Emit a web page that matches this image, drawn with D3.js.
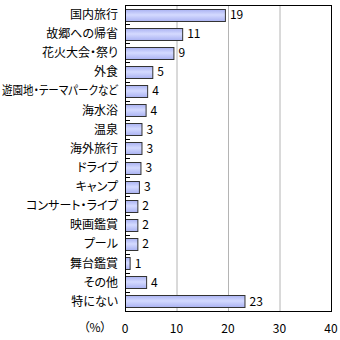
<!DOCTYPE html>
<html><head><meta charset="utf-8">
<script src="https://cdn.jsdelivr.net/npm/d3@7"></script>
<style>body{margin:0;background:#fff}svg{display:block}text{font-feature-settings:"palt" 1;}</style>
</head><body>
<svg id="c" width="340" height="340"></svg>
<script>
const categories = ["国内旅行","故郷への帰省","花火大会・祭り","外食","遊園地・テーマパークなど","海水浴","温泉","海外旅行","ドライブ","キャンプ","コンサート・ライブ","映画鑑賞","プール","舞台鑑賞","その他","特にない"];
const values = [19.4, 11.1, 9.4, 5.3, 4.3, 4.0, 3.2, 3.2, 3.0, 2.7, 2.4, 2.4, 2.4, 0.9, 4.1, 23.2];
const valueLabels = ["19","11","9","5","4","4","3","3","3","3","2","2","2","1","4","23"];
const xTicks = [0, 10, 20, 30, 40];
const unitLabel = "（%）";

const svg = d3.select("#c");
const m = {l:125, r:331, t:5, b:311};
const font = "'Noto Sans CJK JP', sans-serif";

const x = d3.scaleLinear().domain([0,40]).range([m.l, m.r]);
const y = d3.scaleBand().domain(categories).range([m.t, m.b]).paddingInner(0.37).paddingOuter(0.185);
const yb = d3.scaleBand().domain(categories).range([m.t, m.b]);

const defs = svg.append("defs");
const g = defs.append("linearGradient").attr("id","bg").attr("x1",0).attr("y1",0).attr("x2",0).attr("y2",1);
g.append("stop").attr("offset","0%").attr("stop-color","#aab2f2");
g.append("stop").attr("offset","45%").attr("stop-color","#d4daff");
g.append("stop").attr("offset","100%").attr("stop-color","#aab2f2");

svg.append("g").selectAll("line").data(xTicks.filter(t=>t>0 && t<40)).join("line")
  .attr("x1",d=>x(d)+0.5).attr("x2",d=>x(d)+0.5).attr("y1",m.t).attr("y2",m.b)
  .attr("stroke","#b4b4b4").attr("stroke-width",1);

svg.append("g").selectAll("rect").data(categories).join("rect")
  .attr("x", x(0)+0.5).attr("y", d=>Math.round(y(d))+0.5)
  .attr("width", (d,i)=>x(values[i])-x(0))
  .attr("height", Math.round(y.bandwidth()))
  .attr("fill","url(#bg)").attr("stroke","#333").attr("stroke-width",1);

svg.append("rect").attr("x",m.l+0.5).attr("y",m.t+0.5).attr("width",m.r-m.l).attr("height",m.b-m.t)
  .attr("fill","none").attr("stroke","#000").attr("stroke-width",1);

svg.append("g").selectAll("line").data(categories.slice(1)).join("line")
  .attr("x1",m.l).attr("x2",m.l+5).attr("y1",d=>Math.round(yb(d))+0.5).attr("y2",d=>Math.round(yb(d))+0.5)
  .attr("stroke","#000");

svg.append("g").selectAll("text").data(categories).join("text")
  .attr("x",118).attr("y",d=>yb(d)+yb.bandwidth()/2).attr("dy","0.36em")
  .attr("text-anchor","end").attr("font-family",font).attr("font-size",12).attr("fill","#000")
  .text(d=>d)
  .each(function(){ const w=this.getComputedTextLength(); if (w>116) { d3.select(this).attr("textLength",116).attr("lengthAdjust","spacingAndGlyphs"); } });

svg.append("g").selectAll("text").data(categories).join("text")
  .attr("x",(d,i)=>x(values[i])+5).attr("y",d=>yb(d)+yb.bandwidth()/2).attr("dy","0.36em")
  .attr("font-family",font).attr("font-size",12).attr("fill","#000")
  .text((d,i)=>valueLabels[i]);

svg.append("g").selectAll("text").data(xTicks).join("text")
  .attr("x",d=>x(d)).attr("y",329).attr("dy","0.36em").attr("text-anchor","middle")
  .attr("font-family",font).attr("font-size",12).attr("fill","#000")
  .text(d=>d);

svg.append("text").attr("x",95).attr("y",328).attr("dy","0.36em").attr("text-anchor","middle")
  .attr("font-family",font).attr("font-size",12).attr("fill","#000").text(unitLabel);
</script>
</body></html>
